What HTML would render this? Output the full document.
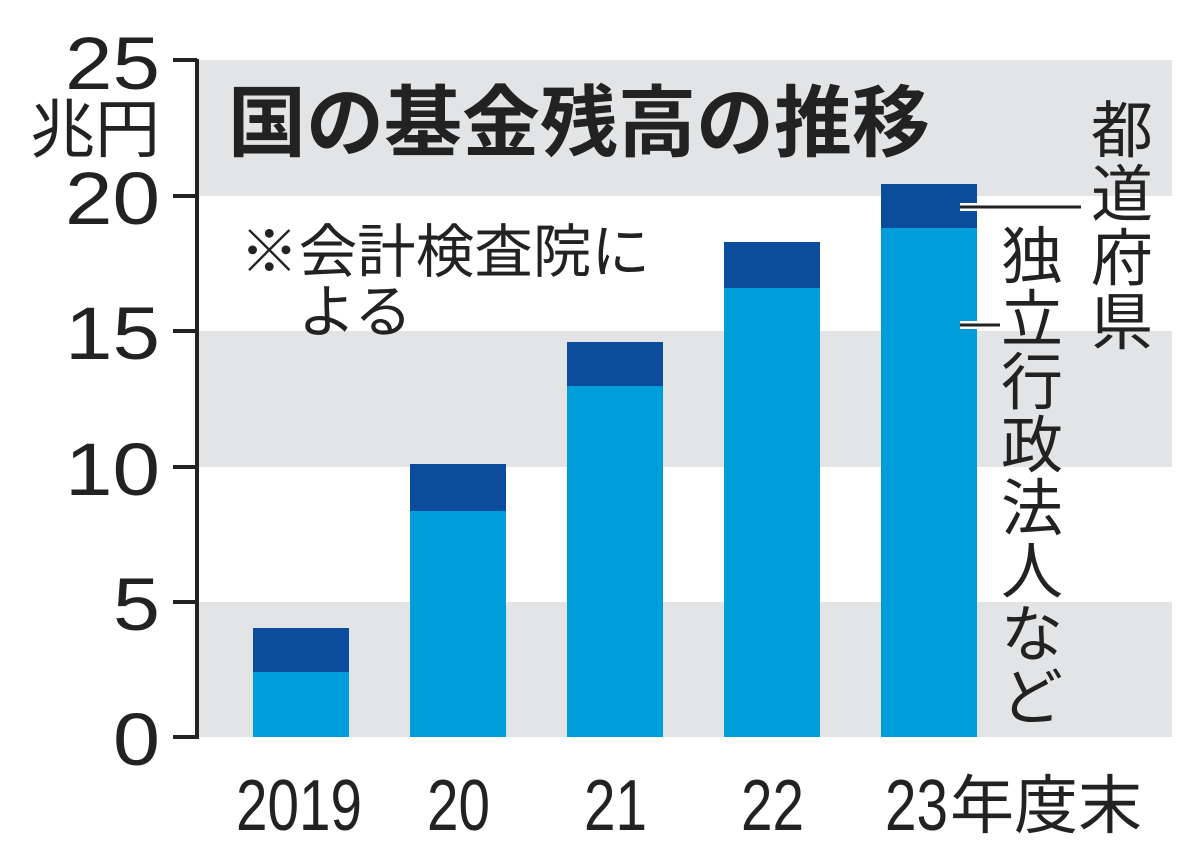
<!DOCTYPE html>
<html><head><meta charset="utf-8"><style>
body{margin:0;background:#fff;}
svg text{font-family:"Liberation Sans","Noto Sans CJK JP",sans-serif;}
</style></head><body>
<svg width="1200" height="860" xmlns="http://www.w3.org/2000/svg">
<rect x="0" y="0" width="1200" height="860" fill="#fff"/>
<g fill="#e3e4e5">
<rect x="197" y="60" width="975" height="136"/>
<rect x="197" y="331" width="975" height="136"/>
<rect x="197" y="602" width="975" height="135"/>
</g>
<g fill="#009ddb">
<rect x="253" y="672" width="96" height="65"/>
<rect x="410" y="511" width="96" height="226"/>
<rect x="567" y="386" width="96" height="351"/>
<rect x="724" y="288" width="96" height="449"/>
<rect x="881" y="228" width="96" height="509"/>
</g>
<g fill="#0b4c9c">
<rect x="253" y="628" width="96" height="44"/>
<rect x="410" y="464" width="96" height="47"/>
<rect x="567" y="342" width="96" height="44"/>
<rect x="724" y="242" width="96" height="46"/>
<rect x="881" y="184" width="96" height="44"/>
</g>
<g stroke="#222" stroke-width="4" fill="none">
<line x1="197" y1="59" x2="197" y2="739"/>
<line x1="173" y1="60" x2="197" y2="60"/>
<line x1="173" y1="196" x2="197" y2="196"/>
<line x1="173" y1="331" x2="197" y2="331"/>
<line x1="173" y1="467" x2="197" y2="467"/>
<line x1="173" y1="602" x2="197" y2="602"/>
<line x1="173" y1="737" x2="197" y2="737"/>
</g>
<line x1="960" y1="207" x2="1081" y2="207" stroke="#fff" stroke-width="8"/>
<line x1="960" y1="207" x2="1081" y2="207" stroke="#222" stroke-width="3"/>
<line x1="960" y1="325" x2="1000" y2="325" stroke="#fff" stroke-width="8"/>
<line x1="960" y1="325" x2="1000" y2="325" stroke="#222" stroke-width="3"/>
<g font-size="74" fill="#222">
<text x="65" y="89" textLength="95" lengthAdjust="spacingAndGlyphs">25</text>
<text x="65" y="224" textLength="95" lengthAdjust="spacingAndGlyphs">20</text>
<text x="65" y="359" textLength="95" lengthAdjust="spacingAndGlyphs">15</text>
<text x="65" y="495" textLength="95" lengthAdjust="spacingAndGlyphs">10</text>
<text x="113" y="630" textLength="47" lengthAdjust="spacingAndGlyphs">5</text>
<text x="113" y="765" textLength="47" lengthAdjust="spacingAndGlyphs">0</text>
</g>
<text x="30" y="152" font-size="64" fill="#222" textLength="130" lengthAdjust="spacingAndGlyphs">兆円</text>
<text x="228" y="150" font-size="78" font-weight="bold" fill="#222">国の基金残高の推移</text>
<text x="240" y="272" font-size="58" fill="#222" textLength="410" lengthAdjust="spacingAndGlyphs">※会計検査院に</text>
<text x="298" y="332" font-size="58" fill="#222">よる</text>
<g font-size="72" fill="#222">
<text x="236" y="830" textLength="126" lengthAdjust="spacingAndGlyphs">2019</text>
<text x="427" y="830" textLength="63" lengthAdjust="spacingAndGlyphs">20</text>
<text x="584" y="830" textLength="63" lengthAdjust="spacingAndGlyphs">21</text>
<text x="741" y="830" textLength="63" lengthAdjust="spacingAndGlyphs">22</text>
<text x="885" y="830" textLength="63" lengthAdjust="spacingAndGlyphs">23</text>
</g>
<text x="950" y="828" font-size="64" fill="#222">年度末</text>
<g font-size="62" fill="#222" text-anchor="middle" style="font-family:'Noto Serif CJK JP','Noto Serif CJK SC',serif">
<text x="1122" y="152">都</text>
<text x="1122" y="216">道</text>
<text x="1122" y="280">府</text>
<text x="1122" y="344">県</text>
<text x="1032" y="278">独</text>
<text x="1032" y="341">立</text>
<text x="1032" y="404">行</text>
<text x="1032" y="467">政</text>
<text x="1032" y="530">法</text>
<text x="1032" y="593">人</text>
<text x="1032" y="656">な</text>
<text x="1032" y="719">ど</text>
</g>
</svg>
</body></html>
